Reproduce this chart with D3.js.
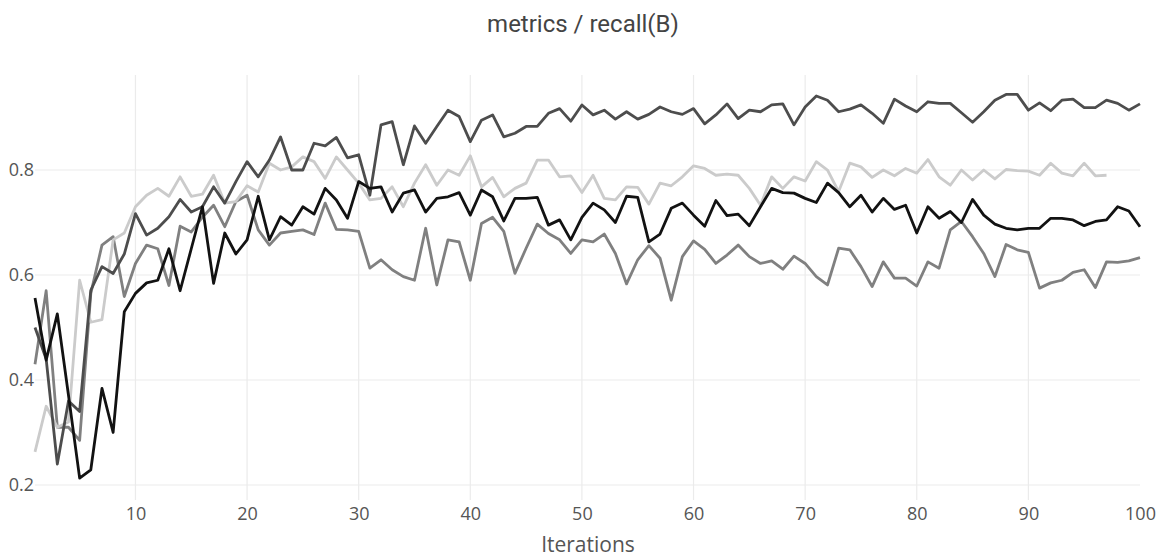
<!DOCTYPE html>
<html>
<head>
<meta charset="utf-8">
<script src="https://cdn.jsdelivr.net/npm/d3@7"></script>
<style>
  body { margin: 0; background: #fff; }
  .tick text { font-family: "Open Sans", sans-serif; fill: #555; }
</style>
</head>
<body>
<div id="chart"></div>
<script>
// iteration numbers on the x axis
var iterations = d3.range(1, 101);

// four runs
var darkRun = [
  0.50, 0.44, 0.24, 0.36, 0.34, 0.571, 0.616, 0.603, 0.64, 0.717,
  0.676, 0.689, 0.711, 0.744, 0.72, 0.73, 0.768, 0.737, 0.778, 0.816,
  0.787, 0.819, 0.863, 0.80, 0.80, 0.851, 0.846, 0.862, 0.823, 0.829,
  0.752, 0.886, 0.892, 0.81, 0.884, 0.851, 0.883, 0.914, 0.902, 0.854,
  0.895, 0.905, 0.863, 0.87, 0.883, 0.883, 0.908, 0.917, 0.893, 0.924,
  0.905, 0.914, 0.897, 0.911, 0.897, 0.906, 0.92, 0.911, 0.906, 0.917,
  0.888, 0.905, 0.926, 0.898, 0.914, 0.911, 0.924, 0.926, 0.886, 0.92,
  0.941, 0.933, 0.911, 0.916, 0.924, 0.908, 0.889, 0.935, 0.922, 0.911,
  0.93, 0.927, 0.927, 0.909, 0.891, 0.911, 0.933, 0.944, 0.944, 0.914,
  0.928, 0.913, 0.933, 0.935, 0.919, 0.919, 0.933, 0.927, 0.914, 0.926
];
var blackRun = [
  0.556, 0.438, 0.526, 0.371, 0.213, 0.229, 0.384, 0.30, 0.53, 0.565,
  0.585, 0.59, 0.65, 0.57, 0.65, 0.73, 0.584, 0.68, 0.64, 0.667,
  0.75, 0.667, 0.711, 0.695, 0.73, 0.716, 0.765, 0.743, 0.708, 0.778,
  0.765, 0.768, 0.72, 0.756, 0.762, 0.72, 0.746, 0.749, 0.757, 0.714,
  0.762, 0.749, 0.703, 0.746, 0.746, 0.748, 0.695, 0.705, 0.667, 0.71,
  0.737, 0.724, 0.70, 0.75, 0.748, 0.663, 0.678, 0.727, 0.737, 0.714,
  0.693, 0.742, 0.713, 0.716, 0.694, 0.73, 0.765, 0.757, 0.756, 0.746,
  0.738, 0.775, 0.757, 0.73, 0.752, 0.72, 0.746, 0.725, 0.733, 0.68,
  0.73, 0.708, 0.721, 0.70, 0.744, 0.714, 0.697, 0.689, 0.686, 0.689,
  0.689, 0.708, 0.708, 0.705, 0.694, 0.702, 0.705, 0.73, 0.722, 0.692
];
// this one stops at iteration 97
var lightRun = [
  0.263, 0.35, 0.31, 0.32, 0.59, 0.51, 0.515, 0.667, 0.68, 0.73,
  0.752, 0.765, 0.75, 0.787, 0.75, 0.754, 0.79, 0.737, 0.74, 0.77,
  0.758, 0.813, 0.80, 0.806, 0.825, 0.816, 0.784, 0.825, 0.80, 0.775,
  0.743, 0.746, 0.768, 0.73, 0.775, 0.81, 0.771, 0.80, 0.79, 0.827,
  0.768, 0.786, 0.749, 0.765, 0.775, 0.819, 0.819, 0.787, 0.789, 0.757,
  0.79, 0.746, 0.743, 0.768, 0.767, 0.735, 0.775, 0.77, 0.787, 0.808,
  0.803, 0.79, 0.792, 0.79, 0.765, 0.733, 0.787, 0.765, 0.787, 0.779,
  0.816, 0.80, 0.759, 0.813, 0.806, 0.786, 0.80, 0.789, 0.803, 0.794,
  0.82, 0.787, 0.771, 0.80, 0.781, 0.80, 0.783, 0.801, 0.799, 0.798,
  0.79, 0.813, 0.794, 0.789, 0.813, 0.789, 0.79
];
var midRun = [
  0.43, 0.57, 0.31, 0.31, 0.285, 0.565, 0.657, 0.673, 0.559, 0.622,
  0.657, 0.65, 0.58, 0.693, 0.682, 0.71, 0.733, 0.692, 0.74, 0.752,
  0.686, 0.657, 0.68, 0.683, 0.686, 0.677, 0.737, 0.687, 0.686, 0.683,
  0.613, 0.629, 0.61, 0.597, 0.59, 0.689, 0.581, 0.667, 0.663, 0.59,
  0.698, 0.71, 0.683, 0.603, 0.651, 0.697, 0.679, 0.667, 0.641, 0.667,
  0.663, 0.678, 0.641, 0.583, 0.629, 0.656, 0.632, 0.552, 0.635, 0.665,
  0.649, 0.622, 0.638, 0.657, 0.635, 0.622, 0.627, 0.611, 0.636, 0.622,
  0.597, 0.581, 0.651, 0.648, 0.616, 0.578, 0.625, 0.594, 0.594, 0.579,
  0.625, 0.613, 0.686, 0.702, 0.673, 0.641, 0.597, 0.658, 0.648, 0.643,
  0.575, 0.585, 0.59, 0.605, 0.61, 0.576, 0.625, 0.624, 0.627, 0.633
];

var xTicks = [10, 20, 30, 40, 50, 60, 70, 80, 90, 100];
var yTicks = [0.2, 0.4, 0.6, 0.8];

var width = 1165;
var height = 560;
var plotLeft = 35, plotRight = 1140, plotTop = 75, plotBottom = 500;

var svg = d3.select("#chart")
  .append("svg")
  .attr("width", width)
  .attr("height", height);

var x = d3.scaleLinear().domain([1, 100]).range([plotLeft, plotRight]);
var y = d3.scaleLinear().domain([0.1714, 0.981]).range([plotBottom, plotTop]);

// grid
svg.append("g")
  .selectAll("line")
  .data(yTicks)
  .join("line")
  .attr("x1", plotLeft).attr("x2", plotRight)
  .attr("y1", function(d) { return y(d); })
  .attr("y2", function(d) { return y(d); })
  .attr("stroke", "#ebebeb").attr("stroke-width", 1.2);

svg.append("g")
  .selectAll("line")
  .data(xTicks.filter(function(d) { return d < 100; }))
  .join("line")
  .attr("x1", function(d) { return x(d); })
  .attr("x2", function(d) { return x(d); })
  .attr("y1", plotTop).attr("y2", plotBottom)
  .attr("stroke", "#ebebeb").attr("stroke-width", 1.2);

// axes, text only
var xAxis = svg.append("g")
  .attr("transform", "translate(0,504)")
  .call(d3.axisBottom(x).tickValues(xTicks).tickSize(0).tickPadding(3));
xAxis.select(".domain").remove();
xAxis.selectAll("text").style("font-size", "18px");

var yAxis = svg.append("g")
  .attr("transform", "translate(34,0)")
  .call(d3.axisLeft(y).tickValues(yTicks).tickFormat(d3.format(".1f")).tickSize(0).tickPadding(0));
yAxis.select(".domain").remove();
yAxis.selectAll("text").style("font-size", "18px");

// lines
var line = d3.line()
  .x(function(d, i) { return x(iterations[i]); })
  .y(function(d) { return y(d); });

var runs = [
  { values: midRun, color: "#808080" },
  { values: lightRun, color: "#cbcbcb" },
  { values: darkRun, color: "#4d4d4d" },
  { values: blackRun, color: "#121212" }
];

svg.append("g")
  .selectAll("path")
  .data(runs)
  .join("path")
  .attr("d", function(d) { return line(d.values); })
  .attr("fill", "none")
  .attr("stroke", function(d) { return d.color; })
  .attr("stroke-width", 2.8)
  .attr("stroke-linejoin", "round");

// title and axis label
svg.append("text")
  .attr("x", 583).attr("y", 32)
  .attr("text-anchor", "middle")
  .style("font-family", "Roboto, sans-serif")
  .style("font-size", "24px")
  .style("fill", "#444")
  .text("metrics / recall(B)");

svg.append("text")
  .attr("x", 588).attr("y", 552)
  .attr("text-anchor", "middle")
  .style("font-family", "'Open Sans', sans-serif")
  .style("font-size", "21px")
  .style("fill", "#555")
  .text("Iterations");
</script>
</body>
</html>
